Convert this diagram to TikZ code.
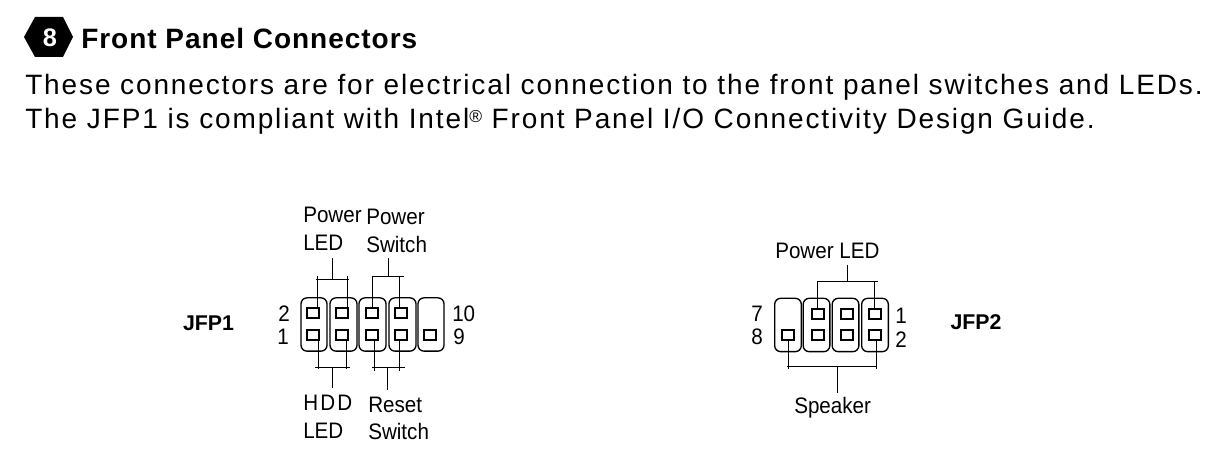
\documentclass[tikz,border=0pt]{standalone}
\usepackage{fontspec}
\setmainfont{Liberation Sans}
\newfontfamily\bodyfont[LetterSpace=6.7]{Liberation Sans}
\newfontfamily\headfont[LetterSpace=3.5]{Liberation Sans}
\newfontfamily\lblfont[FakeStretch=0.92]{Liberation Sans}
\tikzset{
  cellbox/.style={draw, line width=1pt, rounded corners=4.5pt, minimum width=19.5pt, minimum height=40pt, inner sep=0pt},
  pinbox/.style={draw, line width=1.1pt, minimum width=9pt, minimum height=7.5pt, inner sep=0pt},
  wire/.style={line width=0.75pt},
  lbl/.style={anchor=base west, inner sep=0pt, font=\fontsize{16.8}{18}\selectfont\lblfont},
  numlbl/.style={inner sep=0pt, font=\fontsize{16.8}{18}\selectfont\lblfont},
  jfplbl/.style={inner sep=0pt, font=\fontsize{16}{18}\selectfont\bfseries},
  txtline/.style={anchor=base west, inner sep=0pt, font=\fontsize{21}{24}\selectfont\bodyfont}
}
\begin{document}
\begin{tikzpicture}[x=0.75pt,y=-0.75pt]
  \useasboundingbox (0,0) rectangle (1208,459);

  % heading
  \fill (24,37) -- (35,17) -- (63,17) -- (73,37) -- (63,57) -- (35,57) -- cycle;
  \node[inner sep=0pt, text=white, font=\fontsize{19}{20}\selectfont\bfseries] (num) at (50,38) {8};
  \node[anchor=base west, inner sep=0pt, font=\fontsize{21}{24}\selectfont\headfont\bfseries] (title) at (81,49) {Front Panel Connectors};
  \node[txtline] (lineA) at (25,95) {These connectors are for electrical connection to the front panel switches and LEDs.};
  \node[txtline] (lineB) at (25,129) {The JFP1 is compliant with Intel\raisebox{5pt}{\fontsize{13}{14}\selectfont ®} Front Panel I/O Connectivity Design Guide.};

  % JFP1
  \foreach \n/\x/\w in {1/314/26,2/343.5/27,3/372.5/27,4/402.5/27,5/431/26} {
    \node[cellbox, minimum width=\w*0.75pt] (a\n) at (\x,324.5) {};
  }
  \foreach \n/\x in {1/313,2/342,3/372,4/401} {
    \node[pinbox] (up\n) at (\x,313) {};
  }
  \foreach \n/\x in {1/313,2/342,3/372,4/401,5/430} {
    \node[pinbox] (dn\n) at (\x,335) {};
  }

  \coordinate (plA) at (317,276);
  \coordinate (plB) at (347,276);
  \coordinate (plL) at (316,280);
  \coordinate (plR) at (349,280);
  \coordinate (plS) at (332,258);
  \draw[wire] (plL) -- (plR);
  \draw[wire] (plA) -- (plA |- up1.north);
  \draw[wire] (plB) -- (plB |- up2.north);
  \draw[wire] (plS) -- (plS |- plL);

  \coordinate (psA) at (372,277);
  \coordinate (psB) at (399,277);
  \coordinate (psR) at (404,277);
  \coordinate (psS) at (388,258);
  \draw[wire] (psA) -- (psR);
  \draw[wire] (psA) -- (psA |- up3.north);
  \draw[wire] (psB) -- (psB |- up4.north);
  \draw[wire] (psS) -- (psS |- psA);

  \coordinate (hdA) at (318,369);
  \coordinate (hdB) at (346,369);
  \coordinate (hdL) at (315,368);
  \coordinate (hdR) at (350,368);
  \coordinate (hdS) at (332,388);
  \draw[wire] (hdL) -- (hdR);
  \draw[wire] (hdA) -- (hdA |- dn1.south);
  \draw[wire] (hdB) -- (hdB |- dn2.south);
  \draw[wire] (hdS) -- (hdS |- hdL);

  \coordinate (rsA) at (374,371);
  \coordinate (rsB) at (399,371);
  \coordinate (rsL) at (372,368);
  \coordinate (rsR) at (405,368);
  \coordinate (rsS) at (387,390);
  \draw[wire] (rsL) -- (rsR);
  \draw[wire] (rsA) -- (rsA |- dn3.south);
  \draw[wire] (rsB) -- (rsB |- dn4.south);
  \draw[wire] (rsS) -- (rsS |- rsL);

  \node[lbl] (tA) at (303,223) {Power};
  \node[lbl] (tB) at (303,251) {LED};
  \node[lbl] (tC) at (366,225) {Power};
  \node[lbl] (tD) at (366,253) {Switch};
  \node[lbl] (tE) at (303,411) {H\kern1.6pt D\kern1.6pt D};
  \node[lbl] (tF) at (303,439) {LED};
  \node[lbl] (tG) at (368,413) {Reset};
  \node[lbl] (tH) at (368,440) {Switch};

  \node[numlbl] (nA) at (284,314) {2};
  \node[numlbl] (nB) at (283,337) {1};
  \node[numlbl, anchor=west] (nC) at (452,314) {10};
  \node[numlbl, anchor=west] (nD) at (453,337) {9};
  \node[jfplbl] (jA) at (208.5,323) {JFP1};

  % JFP2
  \foreach \n/\x in {1/788,2/816.5,3/845.5,4/875} {
    \node[cellbox, minimum width=20pt] (b\n) at (\x,325) {};
  }
  \foreach \n/\x in {2/818,3/847,4/875} {
    \node[pinbox] (bup\n) at (\x,314) {};
    \node[pinbox] (bdn\n) at (\x,335) {};
  }
  \node[pinbox] (bdn1) at (788,335) {};

  \coordinate (lpA) at (817,282);
  \coordinate (lpB) at (874,282);
  \coordinate (lpR) at (878,282);
  \coordinate (lpS) at (847,265);
  \draw[wire] (lpA) -- (lpR);
  \draw[wire] (lpA) -- (lpA |- bup2.north);
  \draw[wire] (lpB) -- (lpB |- bup4.north);
  \draw[wire] (lpS) -- (lpS |- lpA);

  \coordinate (spA) at (788,369);
  \coordinate (spB) at (876,369);
  \coordinate (spL) at (787,367);
  \coordinate (spR) at (877,367);
  \coordinate (spS) at (837,393);
  \draw[wire] (spL) -- (spR);
  \draw[wire] (spA) -- (spA |- bdn1.south);
  \draw[wire] (spB) -- (spB |- bdn4.south);
  \draw[wire] (spS) -- (spS |- spL);

  \node[lbl] (tI) at (775,259) {Power LED};
  \node[lbl] (tJ) at (794,414) {Speaker};

  \node[numlbl] (nE) at (757,314) {7};
  \node[numlbl] (nF) at (757,337) {8};
  \node[numlbl] (nG) at (901,316) {1};
  \node[numlbl] (nH) at (901,340) {2};
  \node[jfplbl] (jB) at (976,322) {JFP2};
\end{tikzpicture}
\end{document}
